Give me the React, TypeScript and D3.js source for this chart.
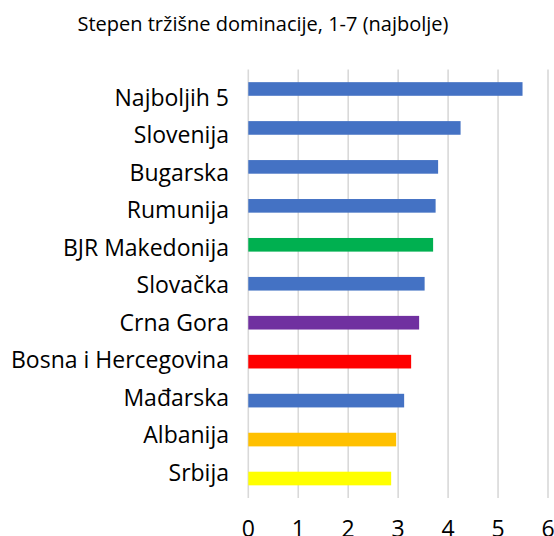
import React from "react";
import * as d3 from "d3";

const categories = [
  "Najboljih 5",
  "Slovenija",
  "Bugarska",
  "Rumunija",
  "BJR Makedonija",
  "Slovačka",
  "Crna Gora",
  "Bosna i Hercegovina",
  "Mađarska",
  "Albanija",
  "Srbija",
];
const values = [5.49, 4.25, 3.8, 3.75, 3.7, 3.53, 3.42, 3.26, 3.12, 2.96, 2.86];
const colors = [
  "#4472C4", "#4472C4", "#4472C4", "#4472C4", "#00B050", "#4472C4",
  "#7030A0", "#FF0000", "#4472C4", "#FFC000", "#FFFF00",
];
const ticks = [0, 1, 2, 3, 4, 5, 6];
const title = "Stepen tržišne dominacije, 1-7 (najbolje)";

const W = 554;
const H = 536;
const FONT = "'Open Sans', 'Noto Sans', sans-serif";

export default function App() {
  const x = d3.scaleLinear().domain([0, 6]).range([248.3, 548]);
  const y = d3
    .scaleBand<string>()
    .domain(categories)
    .range([69.5, 498])
    .paddingInner(0.65)
    .paddingOuter(0.325);
  const yLabel = d3.scalePoint<string>().domain(categories).range([106, 480.7]);
  return (
    <svg
      width={W}
      height={H}
      style={{ position: "absolute", left: 0, top: 0, background: "#fff" }}
    >
      <text
        x={263}
        y={31}
        textAnchor="middle"
        fontFamily={FONT}
        fontSize={20}
        fill="#000"
      >
        {title}
      </text>
      {ticks.map((t) => (
        <line
          key={"g" + t}
          x1={x(t)}
          x2={x(t)}
          y1={69.5}
          y2={498}
          stroke="#d9d9d9"
          strokeWidth={1.6}
        />
      ))}
      {categories.map((c, i) => (
        <rect
          key={c}
          x={x(0)}
          y={y(c)}
          width={x(values[i]) - x(0)}
          height={y.bandwidth()}
          fill={colors[i]}
        />
      ))}
      {categories.map((c) => (
        <text
          key={"l" + c}
          x={229}
          y={yLabel(c)}
          textAnchor="end"
          fontFamily={FONT}
          fontSize={23}
          fill="#000"
        >
          {c}
        </text>
      ))}
      {ticks.map((t) => (
        <text
          key={"t" + t}
          x={x(t)}
          y={537}
          textAnchor="middle"
          fontFamily={FONT}
          fontSize={23}
          fill="#000"
        >
          {t}
        </text>
      ))}
    </svg>
  );
}
